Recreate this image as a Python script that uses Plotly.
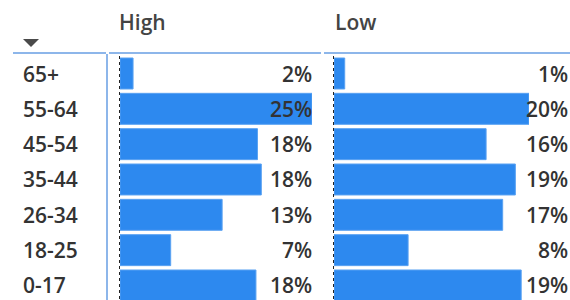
import plotly.graph_objects as go

# ---- data ----
age_groups = ["65+", "55-64", "45-54", "35-44", "26-34", "18-25", "0-17"]
high_pct = [1.7, 25.0, 17.9, 18.4, 13.3, 6.6, 17.7]
low_pct = [1.1, 20.0, 15.6, 18.6, 17.3, 7.6, 19.2]
column_titles = ["High", "Low"]

W, H = 570, 300
def px(x):
    return x / W
def py(y):
    return 1 - y / H

BAR = "#2D89EF"
BAR_EDGE = "#5AA2F2"
GRID = "#8DB6EA"
TXT = "#333333"
FONT = "Open Sans"
FS = 21

fig = go.Figure()
fig.add_trace(go.Bar(y=age_groups, x=high_pct, orientation="h", xaxis="x", yaxis="y",
                     width=0.877, marker=dict(color=BAR, line=dict(color=BAR_EDGE, width=1)),
                     hoverinfo="skip"))
fig.add_trace(go.Bar(y=age_groups, x=low_pct, orientation="h", xaxis="x2", yaxis="y",
                     width=0.877, marker=dict(color=BAR, line=dict(color=BAR_EDGE, width=1)),
                     hoverinfo="skip"))

row_top = 73.5
row_step = 35.33
y_top = 0 - row_top / row_step
y_bot = (H - row_top) / row_step

shapes = []
# header line with breaks
for x0, x1 in [(13, 106), (109, 321), (324, 572)]:
    shapes.append(dict(type="line", xref="paper", yref="paper", x0=px(x0), x1=px(x1),
                       y0=py(53), y1=py(53), line=dict(color=GRID, width=2)))
# vertical separator
shapes.append(dict(type="line", xref="paper", yref="paper", x0=px(107), x1=px(107),
                   y0=py(54), y1=py(300), line=dict(color=GRID, width=2)))
# dotted baselines
for xb in (119.5, 333.5):
    shapes.append(dict(type="line", xref="paper", yref="paper", x0=px(xb), x1=px(xb),
                       y0=py(56), y1=py(300), line=dict(color="#222222", width=1, dash="dot")))
# sort arrow
shapes.append(dict(type="path", xref="paper", yref="paper",
                   path=f"M {px(23)} {py(39)} L {px(39)} {py(39)} L {px(31)} {py(47)} Z",
                   fillcolor="#4A4A4A", line=dict(width=0)))

annotations = []
for title, xl in zip(column_titles, (117, 333)):
    annotations.append(dict(text=title, xref="paper", yref="paper", x=px(xl), y=py(22),
                            xanchor="left", yanchor="middle", showarrow=False,
                            font=dict(family=FONT, size=FS, color="#444444", weight=600)))
for cat in age_groups:
    annotations.append(dict(text=cat, xref="paper", yref="y", x=px(21), y=cat,
                            xanchor="left", yanchor="middle", showarrow=False,
                            font=dict(family=FONT, size=FS, color=TXT, weight=600)))
for cat, v in zip(age_groups, high_pct):
    annotations.append(dict(text=f"{round(v)}%", xref="paper", yref="y", x=px(314), y=cat,
                            xanchor="right", yanchor="middle", showarrow=False,
                            font=dict(family=FONT, size=FS, color=TXT, weight=600)))
for cat, v in zip(age_groups, low_pct):
    annotations.append(dict(text=f"{round(v)}%", xref="paper", yref="y", x=px(570), y=cat,
                            xanchor="right", yanchor="middle", showarrow=False,
                            font=dict(family=FONT, size=FS, color=TXT, weight=600)))

fig.update_layout(
    width=W, height=H,
    margin=dict(l=0, r=0, t=0, b=0),
    paper_bgcolor="white", plot_bgcolor="rgba(0,0,0,0)",
    showlegend=False, barmode="overlay",
    xaxis=dict(domain=[px(120), px(312)], range=[0, max(high_pct)], visible=False, fixedrange=True),
    xaxis2=dict(domain=[px(334), px(529)], range=[0, max(low_pct)], visible=False,
                anchor="y", fixedrange=True),
    yaxis=dict(type="category", categoryarray=age_groups, categoryorder="array",
               range=[y_bot, y_top], domain=[0, 1], visible=False, fixedrange=True),
    shapes=shapes, annotations=annotations,
)

fig.write_html("out.html", config={"displayModeBar": False},
               post_script="document.body.style.margin='0';document.body.style.overflow='hidden';")
